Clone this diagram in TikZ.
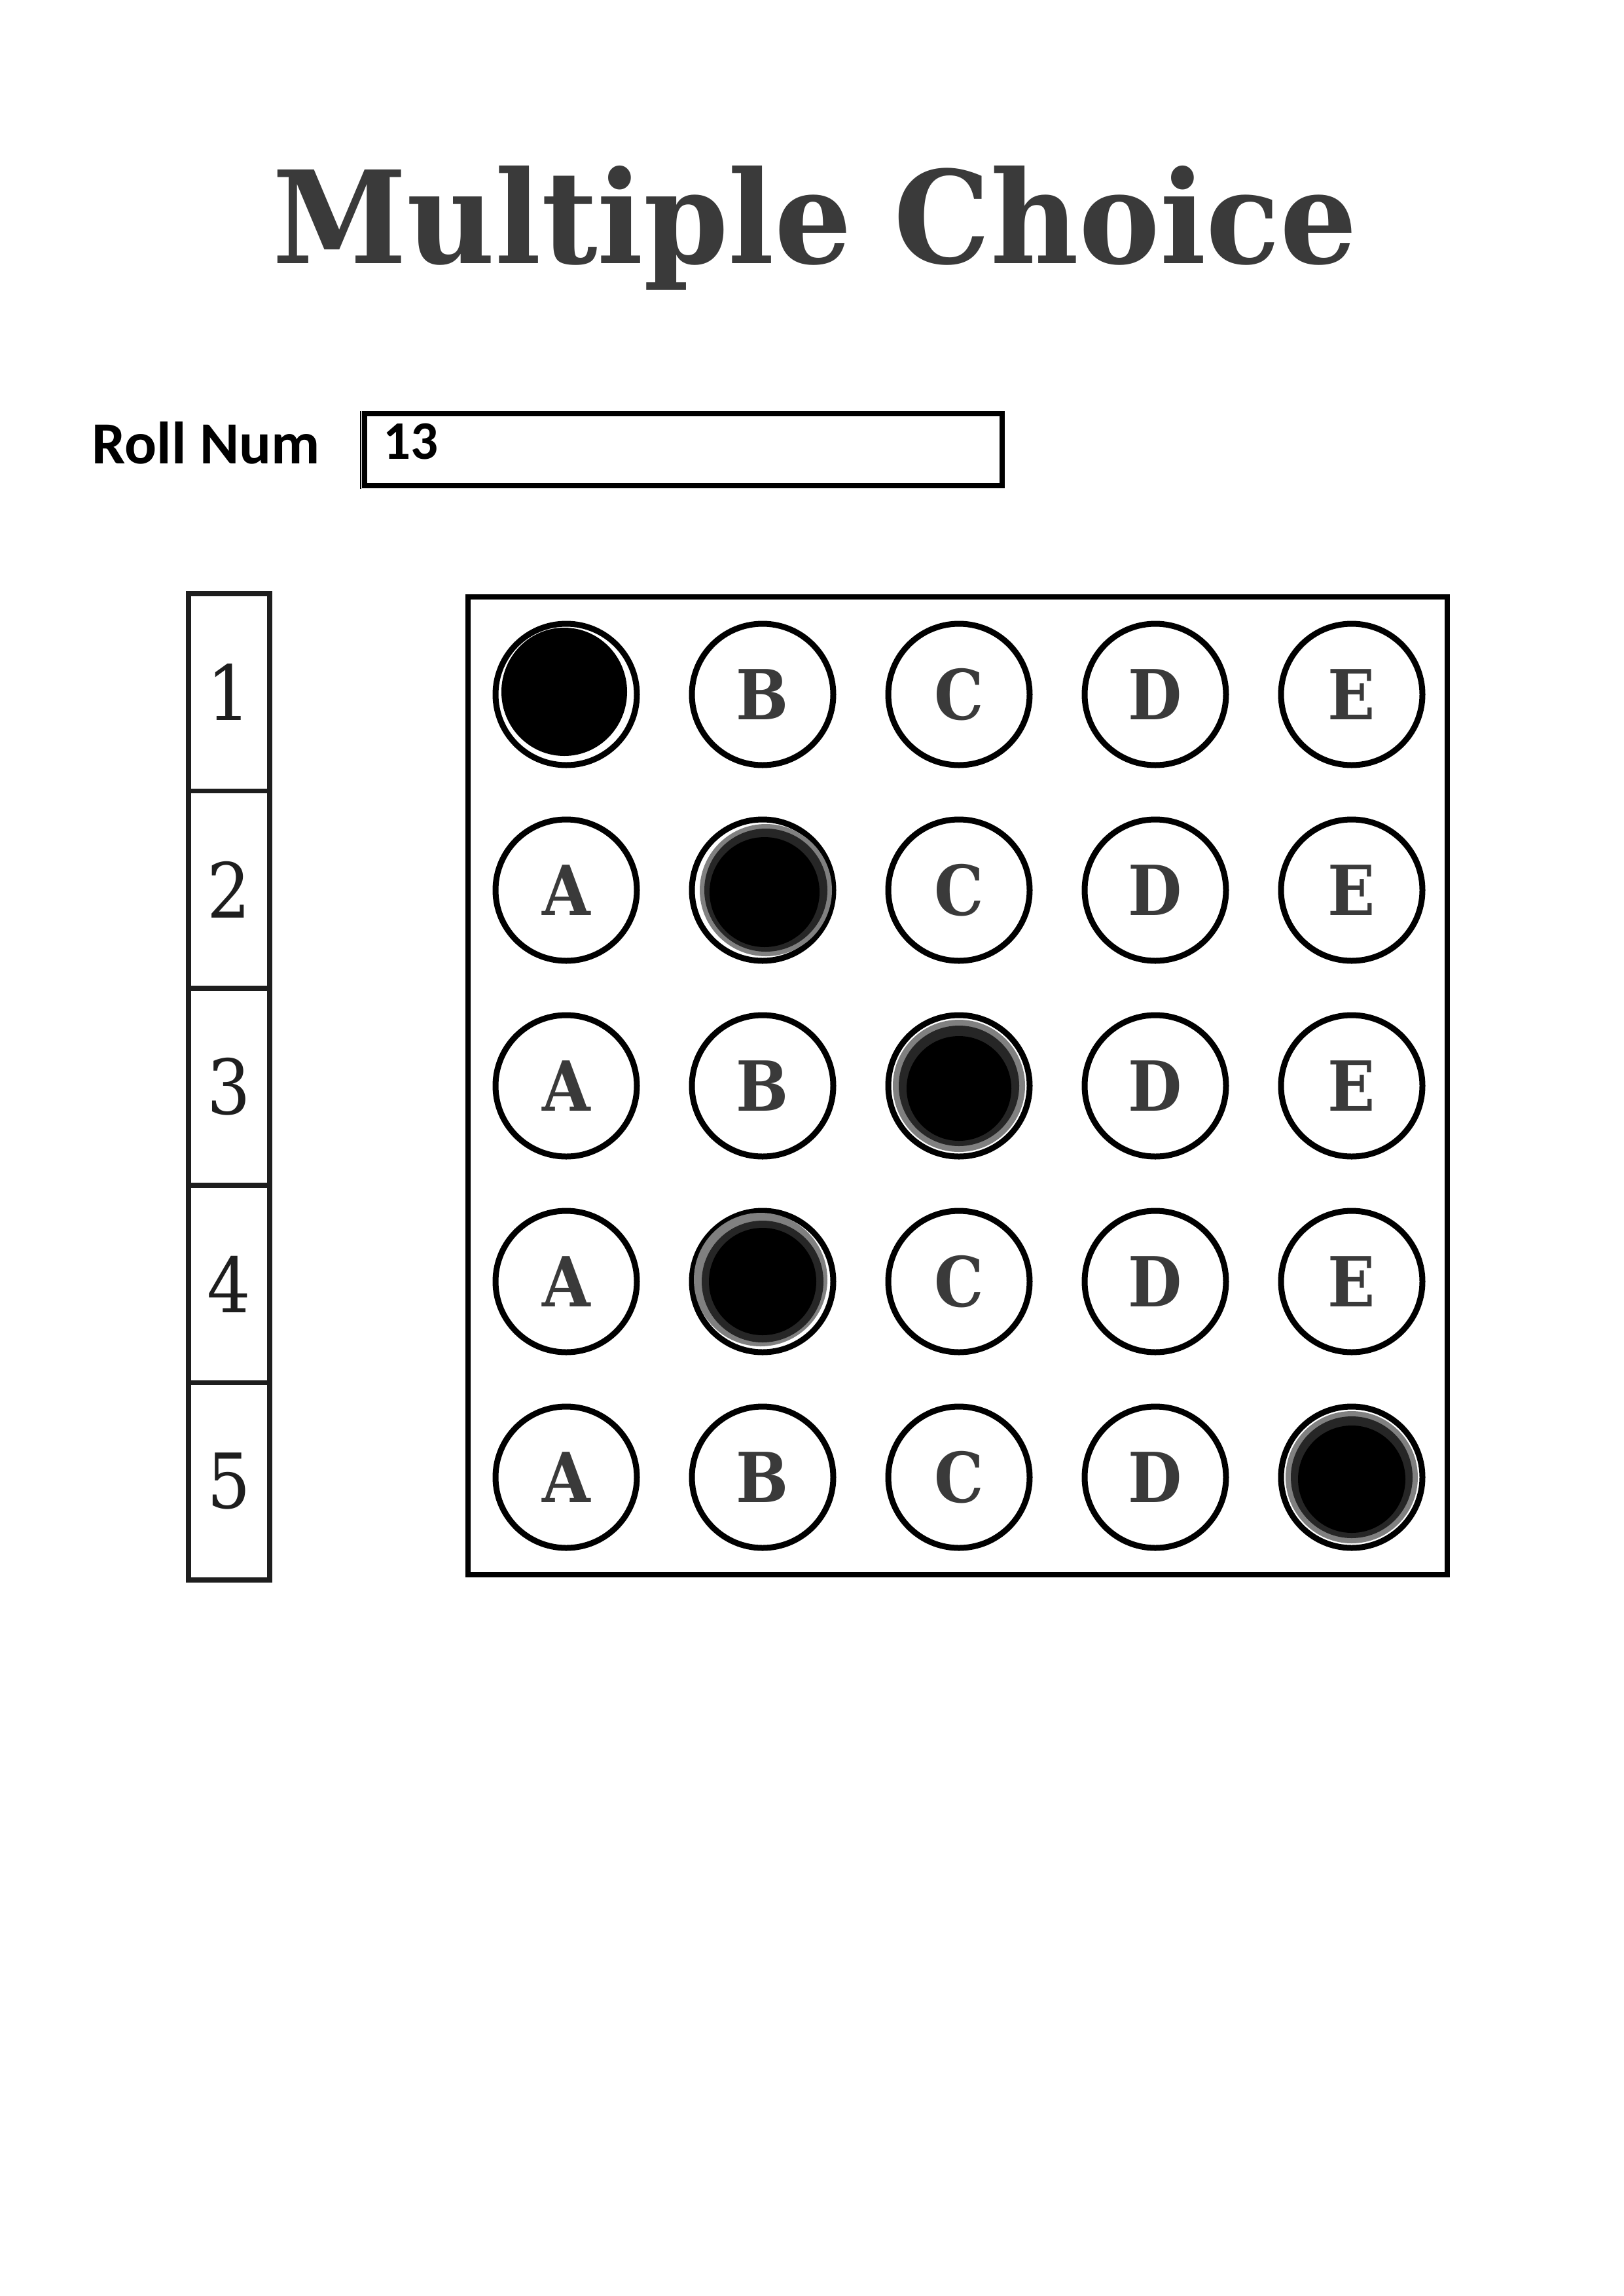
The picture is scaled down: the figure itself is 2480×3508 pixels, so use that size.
\documentclass[tikz,border=0pt]{standalone}
\usepackage{fontspec}
\usepackage{tikz}
\usetikzlibrary{shapes}
\usepackage{xcolor}

\newfontfamily\sheetserif{DejaVu Serif}[FakeStretch=0.9]
\newfontfamily\titleserif{DejaVu Serif}[FakeStretch=0.945]
\newfontfamily\sheetsans{Carlito}
\definecolor{lettergray}{HTML}{3A3A3A}
\definecolor{numgray}{HTML}{1E1E1E}
\newlength{\unitpx}
\setlength{\unitpx}{0.0084667cm}

\tikzset{
    bubble/.style={circle, draw, line width=9\unitpx, minimum size=216\unitpx, inner sep=0,
        text=lettergray, font=\sheetserif\bfseries\fontsize{25.4pt}{26pt}\selectfont},
    qcell/.style={rectangle, draw=numgray, line width=7.5\unitpx, minimum width=124\unitpx,
        minimum height=301.4\unitpx, inner sep=0, outer sep=0,
        text=numgray, font=\sheetserif\fontsize{28pt}{29pt}\selectfont},
    inkedge/.style={fill=black!50},
    inkmid/.style={fill=black!85},
    inkcore/.style={fill=black}
}

\begin{document}
\begin{tikzpicture}[x=0.0084667cm, y=-0.0084667cm]
    \useasboundingbox (0,0) rectangle (2480,3508);

    % Title
    \node[anchor=base, inner sep=0, text=lettergray,
          font=\titleserif\bfseries\fontsize{47.3pt}{50pt}\selectfont] (title) at (1245, 402) {Multiple Choice};

    % Roll number
    \node[anchor=base west, inner sep=0, font=\sheetsans\bfseries\fontsize{22pt}{24pt}\selectfont] (rolllabel) at (140, 708) {Roll Num};
    \node[draw, line width=8\unitpx, minimum width=973.5\unitpx, minimum height=110.5\unitpx, inner sep=0] (rollbox) at (1044, 687) {};
    \draw[line width=1.5\unitpx] (551, 628) -- (551, 747);
    \node[anchor=base west, inner sep=0, font=\sheetsans\bfseries\fontsize{20pt}{22pt}\selectfont] (rollno) at (585, 701) {13};

    % Question numbers
    \node[qcell] (num1) at (350, 1057.7) {1};
    \node[qcell] (num2) at (350, 1359.1) {2};
    \node[qcell] (num3) at (350, 1660.5) {3};
    \node[qcell] (num4) at (350, 1961.9) {4};
    \node[qcell] (num5) at (350, 2263.3) {5};

    % Answer sheet
    \node[draw, line width=7.5\unitpx, minimum width=1496\unitpx, minimum height=1494\unitpx, inner sep=0] (sheet) at (1463, 1659) {};

    \node[bubble] (q1a) at (865, 1061) {};
    \node[bubble] (q1b) at (1165, 1061) {B};
    \node[bubble] (q1c) at (1465, 1061) {C};
    \node[bubble] (q1d) at (1765, 1061) {D};
    \node[bubble] (q1e) at (2065, 1061) {E};

    \node[bubble] (q2a) at (865, 1360) {A};
    \node[bubble] (q2b) at (1165, 1360) {};
    \node[bubble] (q2c) at (1465, 1360) {C};
    \node[bubble] (q2d) at (1765, 1360) {D};
    \node[bubble] (q2e) at (2065, 1360) {E};

    \node[bubble] (q3a) at (865, 1659) {A};
    \node[bubble] (q3b) at (1165, 1659) {B};
    \node[bubble] (q3c) at (1465, 1659) {};
    \node[bubble] (q3d) at (1765, 1659) {D};
    \node[bubble] (q3e) at (2065, 1659) {E};

    \node[bubble] (q4a) at (865, 1958) {A};
    \node[bubble] (q4b) at (1165, 1958) {};
    \node[bubble] (q4c) at (1465, 1958) {C};
    \node[bubble] (q4d) at (1765, 1958) {D};
    \node[bubble] (q4e) at (2065, 1958) {E};

    \node[bubble] (q5a) at (865, 2257) {A};
    \node[bubble] (q5b) at (1165, 2257) {B};
    \node[bubble] (q5c) at (1465, 2257) {C};
    \node[bubble] (q5d) at (1765, 2257) {D};
    \node[bubble] (q5e) at (2065, 2257) {};

    % Pencil marks
    \fill[black] ([xshift=-3\unitpx, yshift=4\unitpx]q1a.center) ellipse [x radius=96\unitpx, y radius=98\unitpx];

    \path[inkedge] ([xshift=5\unitpx]q2b.center) circle [radius=101\unitpx];
    \path[inkmid] ([xshift=5\unitpx]q2b.center) circle [radius=94\unitpx];
    \path[inkcore] ([xshift=3\unitpx, yshift=-3\unitpx]q2b.center) circle [radius=84\unitpx];

    \path[inkedge] (q3c.center) circle [radius=101\unitpx];
    \path[inkmid] (q3c.center) circle [radius=92\unitpx];
    \path[inkcore] ([yshift=-4\unitpx]q3c.center) circle [radius=80\unitpx];

    \path[inkedge] ([xshift=-3\unitpx, yshift=3\unitpx]q4b.center) circle [radius=102\unitpx];
    \path[inkmid] (q4b.center) circle [radius=93\unitpx];
    \path[inkcore] (q4b.center) circle [radius=82\unitpx];

    \path[inkedge] (q5e.center) circle [radius=101\unitpx];
    \path[inkmid] (q5e.center) circle [radius=93\unitpx];
    \path[inkcore] ([yshift=-3\unitpx]q5e.center) circle [radius=82\unitpx];
\end{tikzpicture}
\end{document}
